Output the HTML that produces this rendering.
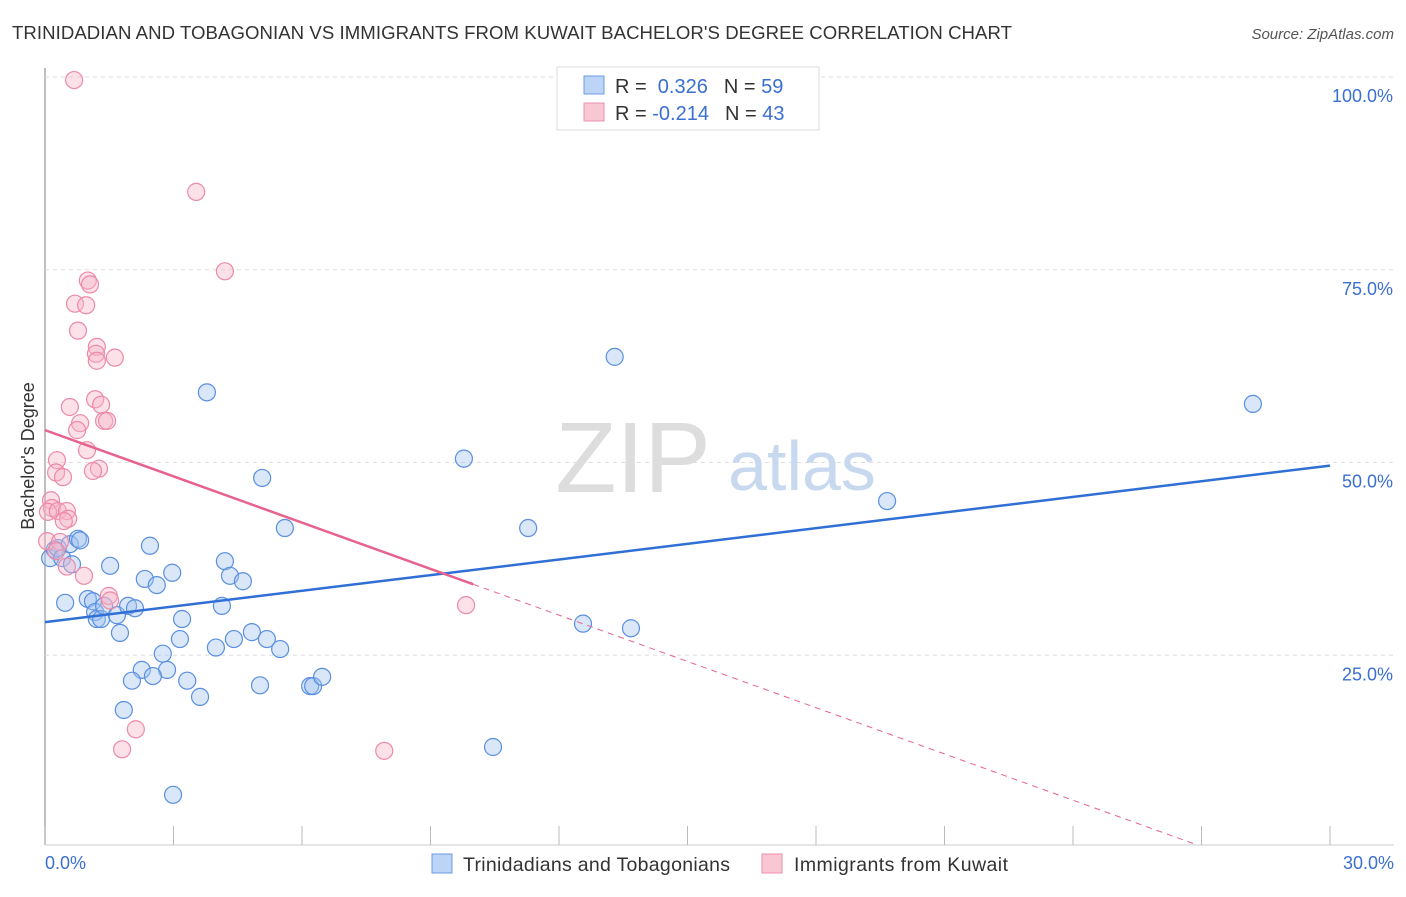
<!DOCTYPE html>
<html><head><meta charset="utf-8"><style>
body{margin:0;background:#fff;font-family:"Liberation Sans",sans-serif;}
svg text{font-family:"Liberation Sans",sans-serif;}
</style></head><body>
<svg id="chart" width="1406" height="892">
<text x="12" y="39" font-size="18.6" fill="#333" textLength="1000">TRINIDADIAN AND TOBAGONIAN VS IMMIGRANTS FROM KUWAIT BACHELOR'S DEGREE CORRELATION CHART</text>
<text x="1394" y="39" font-size="15" fill="#555" font-style="italic" text-anchor="end">Source: ZipAtlas.com</text>
<g id="grid"></g>
<text x="633" y="492" font-size="100" fill="#ddd" font-family="Liberation Serif" text-anchor="middle">ZIP</text>
<text x="802" y="490" font-size="70" fill="#c8d8ef" text-anchor="middle">atlas</text>
<g id="marks"></g>
<text x="34" y="456" font-size="18" fill="#333" text-anchor="middle" transform="rotate(-90 34 456)">Bachelor's Degree</text>
<text x="45" y="869" font-size="18" fill="#3b6fd0">0.0%</text>
<text x="1394" y="869" font-size="18" fill="#3b6fd0" text-anchor="end">30.0%</text>
<g>
<rect x="557" y="67" width="262" height="63" fill="#fff" stroke="#ddd"/>
<rect x="584" y="76" width="20" height="18" fill="#bcd4f5" stroke="#6b9be0"/>
<rect x="584" y="103" width="20" height="18" fill="#f9c6d4" stroke="#ee8fab"/>
<text x="615" y="93" font-size="20" fill="#333">R = <tspan fill="#3b6fd0">&#160;0.326</tspan><tspan dx="16">N = </tspan><tspan fill="#3b6fd0">59</tspan></text>
<text x="615" y="120" font-size="20" fill="#333">R = <tspan fill="#3b6fd0">-0.214</tspan><tspan dx="16">N = </tspan><tspan fill="#3b6fd0">43</tspan></text>
</g>
<g>
<rect x="432" y="854" width="20" height="19" fill="#bcd4f5" stroke="#6b9be0"/>
<text x="463" y="871" font-size="19.5" fill="#333" textLength="267">Trinidadians and Tobagonians</text>
<rect x="762" y="854" width="20" height="19" fill="#f9c6d4" stroke="#ee8fab"/>
<text x="794" y="871" font-size="19.5" fill="#333" textLength="214">Immigrants from Kuwait</text>
</g>
</svg>
<script>
const yTicks=[25,50,75,100];
const yTickLabels=["25.0%","50.0%","75.0%","100.0%"];
const xTicks=[0,3,6,9,12,15,18,21,24,27,30];
const blueX=[0.12,0.23,0.30,0.40,0.47,0.58,0.77,0.82,0.63,1.00,1.12,1.17,1.21,1.31,1.38,1.52,1.68,1.75,1.94,2.10,2.26,2.33,2.45,2.61,2.75,2.85,2.52,2.03,1.84,2.97,3.15,3.20,3.32,3.62,2.99,3.78,3.99,4.13,4.20,4.32,4.41,4.62,4.83,5.02,5.07,5.18,5.49,5.60,6.19,6.26,6.47,9.78,10.46,11.28,12.56,13.30,13.68,19.66,28.20];
const blueY=[37.6,38.7,38.9,37.6,31.8,39.4,40.1,39.9,36.8,32.3,32.0,30.6,29.7,29.7,31.4,36.6,30.2,27.9,31.4,31.1,23.1,34.9,39.2,34.1,25.2,23.1,22.3,21.7,17.9,35.7,27.1,29.7,21.7,19.6,6.9,59.1,26.0,31.4,37.2,35.3,27.1,34.6,28.0,21.1,48.0,27.1,25.8,41.5,21.0,21.0,22.2,50.5,13.1,41.5,29.1,63.7,28.5,45.0,57.6];
const pinkX=[0.68,3.53,4.20,1.00,1.05,0.70,0.96,0.77,1.21,1.19,1.21,1.63,1.17,1.31,0.58,1.38,1.45,0.82,0.75,0.98,0.28,0.26,1.26,1.12,0.42,0.14,0.16,0.07,0.30,0.51,0.54,0.44,0.05,0.35,0.26,0.51,0.91,1.49,1.52,9.83,2.12,1.80,7.92];
const pinkY=[99.6,85.1,74.8,73.6,73.1,70.6,70.4,67.1,65.0,64.1,63.2,63.6,58.2,57.5,57.2,55.4,55.4,55.1,54.2,51.6,50.3,48.7,49.2,48.9,48.1,45.1,44.1,43.6,43.7,43.7,42.7,42.4,39.8,39.7,38.5,36.5,35.3,32.7,32.1,31.5,15.4,12.8,12.6];
const blueFit=[29.3,49.6];
const pinkFit=[54.2,34.2,0.6];
const X0=45,X1=1330,Y0=848,Y100=77;
const sx=v=>X0+(X1-X0)*v/30;
const sy=v=>Y0-(Y0-Y100)*v/100;
const NS="http://www.w3.org/2000/svg";
const grid=document.getElementById('grid'),marks=document.getElementById('marks');
function mk(tag,attrs,parent){const e=document.createElementNS(NS,tag);for(const k in attrs)e.setAttribute(k,attrs[k]);parent.appendChild(e);return e;}
let ax=mk('line',{x1:X0,y1:68,x2:X0,y2:845,stroke:'#aaa','stroke-width':1.5},grid);


let bx=mk('line',{x1:X0,y1:845,x2:1394,y2:845,stroke:'#ccc'},grid);


yTicks.forEach((t,i)=>{
 let g=mk('line',{x1:X0,y1:sy(t),x2:1394,y2:sy(t),stroke:'#ddd','stroke-dasharray':'4,4'},grid);
 
 
 let tx=mk('text',{x:1393,y:sy(t)+25,'font-size':18,fill:'#3b6fd0','text-anchor':'end'},grid);
 tx.textContent=yTickLabels[i];
 
 
});
xTicks.forEach(t=>{
 let l=mk('line',{x1:sx(t),y1:826,x2:sx(t),y2:845,stroke:'#bbb'},grid);
 
 
});
blueX.forEach((x,i)=>{
 let c=mk('circle',{cx:sx(x),cy:sy(blueY[i]),r:8.5,fill:'rgba(160,195,240,0.4)',stroke:'#5a8fe0','stroke-width':1.2},marks);
 
 
});
pinkX.forEach((x,i)=>{
 let c=mk('circle',{cx:sx(x),cy:sy(pinkY[i]),r:8.5,fill:'rgba(248,180,200,0.4)',stroke:'#ec8aa8','stroke-width':1.2},marks);
 
 
});
let bl=mk('line',{x1:sx(0),y1:sy(blueFit[0]),x2:sx(30),y2:sy(blueFit[1]),stroke:'#2f6fd6','stroke-width':2.5},marks);


let pl=mk('line',{x1:sx(0),y1:sy(pinkFit[0]),x2:sx(10),y2:sy(pinkFit[1]),stroke:'#e8628e','stroke-width':2.5},marks);


let pd=mk('line',{x1:sx(10),y1:sy(pinkFit[1]),x2:sx(26.8),y2:sy(pinkFit[2]),stroke:'#e8628e','stroke-width':1,'stroke-dasharray':'6,5'},marks);


</script>
</body></html>
